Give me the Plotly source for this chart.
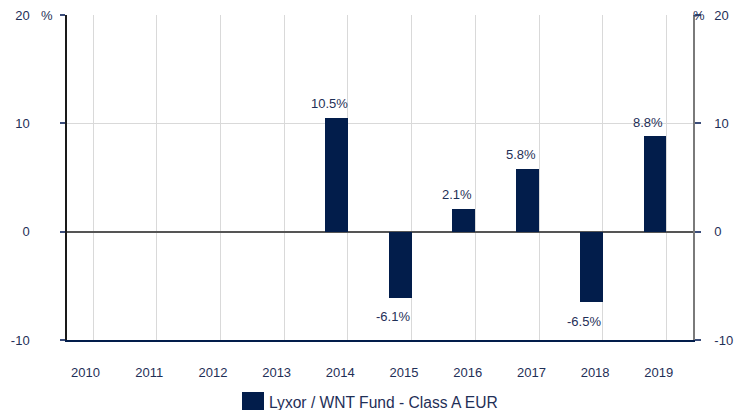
import plotly.graph_objects as go

years = ["2010", "2011", "2012", "2013", "2014", "2015", "2016", "2017", "2018", "2019"]
returns = [None, None, None, None, 10.5, -6.1, 2.1, 5.8, -6.5, 8.8]
series_name = "Lyxor / WNT Fund - Class A EUR"
y_ticks = [-10, 0, 10, 20]
y_ticktext = ["-10", "0", "10", "20"]

BAR = "#021d4b"
TXT = "#1f2f57"
FONT = "Liberation Sans, Arial, sans-serif"

idx = list(range(len(years)))

W, H = 736, 410
L, R, T, B = 67, 43, 15, 70
pw, ph = W - L - R, H - T - B
def px(x):
    return (x - L) / pw
def py(y):
    return (H - B - y) / ph

fig = go.Figure()
fig.add_trace(go.Bar(x=idx, y=returns, width=0.36, marker=dict(color=BAR, line=dict(width=0)),
                     showlegend=False, hoverinfo="skip"))
fig.add_trace(go.Scatter(x=idx, y=[None] * len(idx), yaxis="y2", showlegend=False, hoverinfo="skip"))

for i, v in zip(idx, returns):
    if v is None:
        continue
    fig.add_annotation(x=i, y=v, xref="x", yref="y", text=f"{v:.1f}%", showarrow=False,
                       xanchor="center", yanchor="middle",
                       xshift=-7, yshift=14 if v > 0 else -19,
                       font=dict(family=FONT, size=13, color=TXT))

fig.add_annotation(x=px(47), y=py(15), xref="paper", yref="paper", text="%", showarrow=False,
                   xanchor="center", yanchor="middle",
                   font=dict(family=FONT, size=13, color=TXT))
fig.add_annotation(x=px(699), y=py(15), xref="paper", yref="paper", text="%", showarrow=False,
                   xanchor="center", yanchor="middle",
                   font=dict(family=FONT, size=13, color=TXT))
# manual legend
fig.add_shape(type="rect", xref="paper", yref="paper", x0=px(242), x1=px(264), y0=py(392), y1=py(412),
              fillcolor=BAR, line=dict(width=0))
fig.add_annotation(x=px(267), y=py(402), xref="paper", yref="paper", text=series_name, showarrow=False,
                   xanchor="left", yanchor="middle", font=dict(family=FONT, size=15.6, color=TXT))

fig.update_layout(
    width=W, height=H,
    margin=dict(l=L, r=R, t=T, b=B, pad=0, autoexpand=False),
    paper_bgcolor="white", plot_bgcolor="white",
    font=dict(family=FONT, size=13, color=TXT),
    xaxis=dict(
        range=[-0.231, 9.597], tickmode="array", tickvals=[i + 0.06 for i in idx], ticktext=years,
        showgrid=False, showline=True, linecolor=BAR, linewidth=1.5, ticks="",
        ticklabelstandoff=20, zeroline=False, automargin=False, ticklabeloverflow="allow",
        minor=dict(tick0=0.18, dtick=1, showgrid=True, gridcolor="#d9d9d9", gridwidth=1, ticks=""),
        tickfont=dict(size=13, color=TXT),
    ),
    yaxis=dict(
        range=[-10, 20], tickmode="array", tickvals=y_ticks, ticktext=y_ticktext,
        showgrid=True, gridcolor="#d9d9d9", gridwidth=1,
        zeroline=True, zerolinecolor="#555555", zerolinewidth=1.5,
        showline=True, linecolor="#1a1a1a", linewidth=1.5, automargin=False,
        ticks="outside", ticklen=5, tickcolor="#3b4d7a", tickwidth=1.5, ticklabeloverflow="allow",
        ticklabelstandoff=28, tickfont=dict(size=13, color=TXT),
    ),
    yaxis2=dict(
        range=[-10, 20], tickmode="array", tickvals=y_ticks, ticktext=y_ticktext,
        overlaying="y", side="right", showgrid=False,
        zeroline=False, showline=True, linecolor="#7a7a7a", linewidth=1.5, automargin=False,
        ticks="outside", ticklen=6, tickcolor="#3b4d7a", tickwidth=1.5, ticklabeloverflow="allow",
        ticklabelstandoff=11, tickfont=dict(size=13, color=TXT),
    ),
    bargap=0,
)

fig.write_html("out.html", config={"displayModeBar": False},
               post_script="document.body.style.margin='0';document.body.style.overflow='hidden';")
